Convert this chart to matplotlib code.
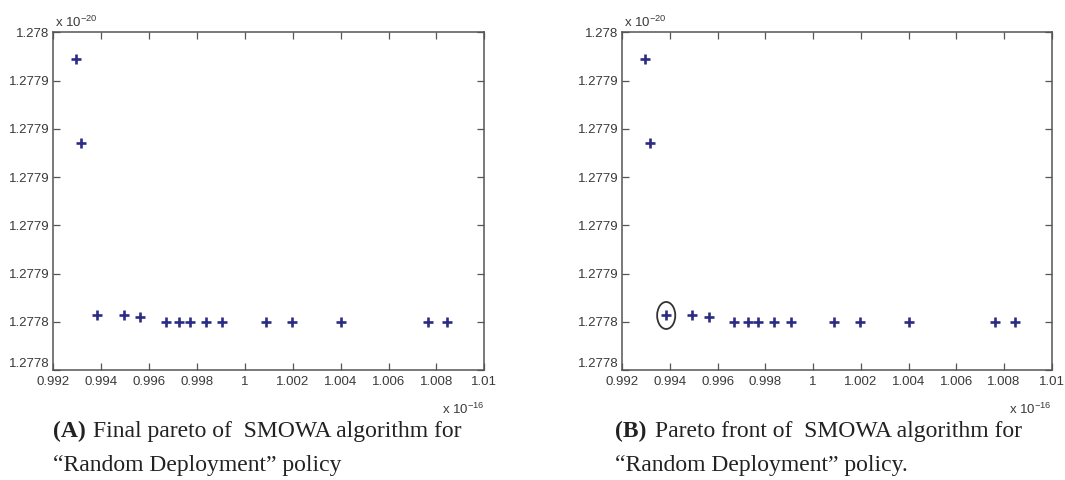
import numpy as np
import matplotlib
matplotlib.use('Agg')
from matplotlib import pyplot as plt
from matplotlib.patches import Ellipse
from matplotlib.ticker import FormatStrFormatter

# pareto points, x in units of 1e-16, y in units of 1e-20
x_vals = np.array([0.99295, 0.99316, 0.99384, 0.99494, 0.99564, 0.99670, 0.99727,
                   0.99769, 0.99838, 0.99906, 1.00089, 1.00197, 1.00402, 1.00763, 1.00845])
y_vals = np.array([1.277949, 1.277914, 1.2778426, 1.2778426, 1.2778420, 1.27784, 1.27784,
                   1.27784, 1.27784, 1.27784, 1.27784, 1.27784, 1.27784, 1.27784, 1.27784])
circled = 2  # point highlighted in panel B

x_ticks = np.round(np.arange(0.992, 1.0101, 0.002), 3)
y_ticks = np.round(np.arange(1.27782, 1.277961, 0.00002), 5)

captions = [("(A)", "Final pareto of  SMOWA algorithm for", "\u201cRandom Deployment\u201d policy"),
            ("(B)", "Pareto front of  SMOWA algorithm for", "\u201cRandom Deployment\u201d policy.")]

plt.rcParams['mathtext.default'] = 'regular'
sans = 'Liberation Sans'
serif = 'Liberation Serif'
ink = '#3a3a3a'
navy = '#2c2c86'

fig = plt.figure(figsize=(10.65, 4.8), dpi=100)
positions = [[53.3 / 1065, 0.2292, 431 / 1065, 0.7035],
             [622.3 / 1065, 0.2292, 429.4 / 1065, 0.7035]]
cap_x = [53, 615]

for k, pos in enumerate(positions):
    ax = fig.add_axes(pos)
    ax.plot(x_vals, y_vals, '+', color=navy, ms=7.5, mew=1.9)
    ax.set_xlim(x_ticks[0], x_ticks[-1])
    ax.set_ylim(y_ticks[0], y_ticks[-1])
    ax.set_xticks(x_ticks)
    ax.set_yticks(y_ticks)
    ax.xaxis.set_major_formatter(FormatStrFormatter('%g'))
    ax.yaxis.set_major_formatter(FormatStrFormatter('%.5g'))
    ax.tick_params(direction='in', length=5, width=0.9, color='#555555',
                   top=True, right=True, labelsize=9.5, labelcolor=ink, pad=3)
    ax.tick_params(axis='x', pad=4)
    for lab in ax.get_xticklabels() + ax.get_yticklabels():
        lab.set_family(sans)
    # bottom y label sits just above the corner, as in the original
    ax.get_yticklabels()[0].set_verticalalignment('bottom')
    for s in ax.spines.values():
        s.set_color('#555555')
        s.set_linewidth(1.1)

    ax.text(0.004, 1.008, r'x 10$^{-20}$', transform=ax.transAxes, ha='left', va='bottom',
            fontsize=9.5, color=ink, family=sans)
    ax.text(0.95, -0.095, r'x 10$^{-16}$', transform=ax.transAxes, ha='center', va='top',
            fontsize=9.5, color=ink, family=sans)

    if k == 1:
        ax.add_patch(Ellipse((x_vals[circled], y_vals[circled]), 0.00076, 0.0000112,
                             fill=False, ec='#333333', lw=1.3))

    tag, line1, line2 = captions[k]
    x0 = cap_x[k] / 1065
    fig.text(x0, 1 - 437 / 480, tag, family=serif, fontweight='bold', fontsize=17,
             va='baseline', color='#222222')
    fig.text(x0 + 40 / 1065, 1 - 437 / 480, line1, family=serif, fontsize=17,
             va='baseline', color='#222222')
    fig.text(x0, 1 - 471 / 480, line2, family=serif, fontsize=17,
             va='baseline', color='#222222')

fig.savefig('out.png', dpi=100)
